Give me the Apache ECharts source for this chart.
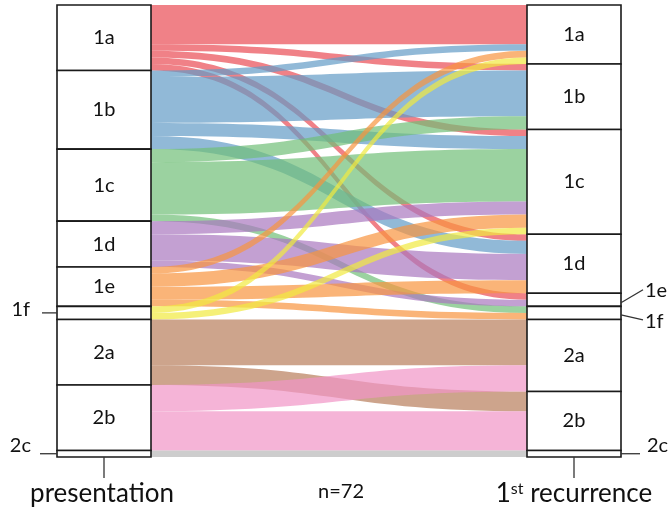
<!DOCTYPE html>
<html>
<head>
<meta charset="utf-8">
<script src="https://cdn.jsdelivr.net/npm/echarts@6/dist/echarts.min.js"></script>
<style>
  html, body { margin: 0; padding: 0; background: #fff; }
  #chart { width: 670px; height: 512px; }
</style>
</head>
<body>
<div id="chart"></div>
<script>
// Subtypes, top to bottom in both columns
const subtypes = ['1a', '1b', '1c', '1d', '1e', '1f', '2a', '2b', '2c'];

// Patients moving from subtype at presentation to subtype at 1st recurrence
const transitions = [
  ['1a', '1a', 6], ['1a', '1b', 1], ['1a', '1c', 1], ['1a', '1d', 1], ['1a', '1e', 1],
  ['1b', '1a', 1], ['1b', '1b', 7], ['1b', '1c', 2], ['1b', '1d', 2],
  ['1c', '1b', 2], ['1c', '1c', 8], ['1c', '1f', 1],
  ['1d', '1c', 2], ['1d', '1d', 4], ['1d', '1e', 1],
  ['1e', '1a', 1], ['1e', '1c', 2], ['1e', '1d', 2], ['1e', '1f', 1],
  ['1f', '1a', 1], ['1f', '1c', 1],
  ['2a', '2a', 7], ['2a', '2b', 3],
  ['2b', '2a', 4], ['2b', '2b', 6],
  ['2c', '2c', 1]
];

// Ribbon colour for each subtype at presentation
const subtypeColors = {
  '1a': '#e94c54', '1b': '#629bc6', '1c': '#70bf77', '1d': '#a977bf',
  '1e': '#f8943e', '1f': '#f1ea3e', '2a': '#b87e5b', '2b': '#f194c6', '2c': '#b8b8b8'
};

// Column titles and sample size
const columnTitles = ['presentation', '1st recurrence'];
const sampleSize = 72;

// Nodes drawn too thin for an inside label get an outside label instead
const outsideLeft = ['1f', '2c'];
const outsideRight = ['1e', '1f', '2c'];

const FONT = 'Lato, "Open Sans", sans-serif';
const chart = echarts.init(document.getElementById('chart'), null, { renderer: 'canvas' });

const leftName = s => 'presentation ' + s;
const rightName = s => 'recurrence ' + s;

const nodes = [];
subtypes.forEach(s => nodes.push({
  name: leftName(s), short: s,
  label: { show: outsideLeft.indexOf(s) < 0 }
}));
subtypes.forEach(s => nodes.push({
  name: rightName(s), short: s,
  label: { show: outsideRight.indexOf(s) < 0 }
}));

const links = transitions.map(([from, to, n]) => ({
  source: leftName(from),
  target: rightName(to),
  value: n,
  lineStyle: { color: subtypeColors[from] }
}));

chart.setOption({
  animation: false,
  backgroundColor: '#fff',
  series: [{
    type: 'sankey',
    left: 57, right: 49, top: 5, bottom: 55,
    nodeWidth: 94,
    nodeGap: 0,
    layoutIterations: 0,
    draggable: false,
    emphasis: { disabled: true },
    data: nodes,
    links: links,
    itemStyle: { color: '#ffffff', borderColor: '#1a1a1a', borderWidth: 1.6 },
    lineStyle: { opacity: 0.7, curveness: 0.5 },
    label: {
      position: 'inside',
      color: '#111',
      fontFamily: FONT,
      fontSize: 20,
      formatter: p => p.data.short
    }
  }]
});

// Leader-lined labels and column titles, placed from the computed node layout
const seriesModel = chart.getModel().getSeriesByIndex(0);
const nodeData = seriesModel.getData();
const area = seriesModel.layoutInfo || { x: 57, y: 5 };
const layoutOf = name => {
  const l = nodeData.getItemLayout(nodeData.indexOfName(name));
  return { x: l.x + area.x, y: l.y + area.y, dx: l.dx, dy: l.dy };
};
const lineStyle = { stroke: '#333', lineWidth: 1.3 };
const graphics = [];
const textStyle = (text, x, y, align, size) => ({
  type: 'text', x: x, y: y, z: 100,
  style: { text: text, fill: '#111', font: size + 'px ' + FONT, align: align, verticalAlign: 'middle' }
});
const segment = (x1, y1, x2, y2) => ({
  type: 'line', z: 100, shape: { x1: x1, y1: y1, x2: x2, y2: y2 }, style: lineStyle
});

// left column outside labels
{
  const l = layoutOf(leftName('1f'));
  const yc = l.y + l.dy / 2;
  graphics.push(segment(l.x - 15, yc, l.x, yc));
  graphics.push(textStyle('1f', l.x - 27, yc - 3, 'right', 20));
}
{
  const l = layoutOf(leftName('2c'));
  const yc = l.y + l.dy / 2;
  graphics.push(segment(l.x - 17, yc, l.x, yc));
  graphics.push(textStyle('2c', l.x - 26, yc - 8, 'right', 20));
}
// right column outside labels
{
  const l = layoutOf(rightName('1e'));
  const x1 = l.x + l.dx, yc = l.y + l.dy / 2;
  graphics.push(segment(x1, yc + 3, x1 + 22, yc - 10));
  graphics.push(textStyle('1e', x1 + 24, yc - 9, 'left', 20));
}
{
  const l = layoutOf(rightName('1f'));
  const x1 = l.x + l.dx, yc = l.y + l.dy / 2;
  graphics.push(segment(x1, yc + 2, x1 + 22, yc + 7));
  graphics.push(textStyle('1f', x1 + 24, yc + 9, 'left', 20));
}
{
  const l = layoutOf(rightName('2c'));
  const x1 = l.x + l.dx, yc = l.y + l.dy / 2;
  graphics.push(segment(x1, yc, x1 + 19, yc));
  graphics.push(textStyle('2c', x1 + 26, yc - 8, 'left', 20));
}

// column ticks and titles
const lBottom = layoutOf(leftName('2c'));
const rBottom = layoutOf(rightName('2c'));
const lx = lBottom.x + lBottom.dx / 2;
const rx = rBottom.x + rBottom.dx / 2;
const yb = lBottom.y + lBottom.dy;
graphics.push(segment(lx, yb, lx, yb + 21));
graphics.push(segment(rx, yb, rx, yb + 21));
graphics.push(textStyle(columnTitles[0], lx - 2, yb + 37, 'center', 26));
graphics.push({
  type: 'text', x: rx, y: yb + 37, z: 100,
  style: {
    text: '{n|1}{s|st}{n|' + columnTitles[1].slice(3) + '}',
    align: 'center', verticalAlign: 'middle',
    rich: {
      n: { font: '26px ' + FONT, fill: '#111', verticalAlign: 'bottom' },
      s: { font: '16px ' + FONT, fill: '#111', verticalAlign: 'top' }
    }
  }
});
graphics.push(textStyle('n=' + sampleSize, (lx + rx) / 2 + 2, yb + 35, 'center', 20));

chart.setOption({ graphic: { elements: graphics } });
</script>
</body>
</html>
